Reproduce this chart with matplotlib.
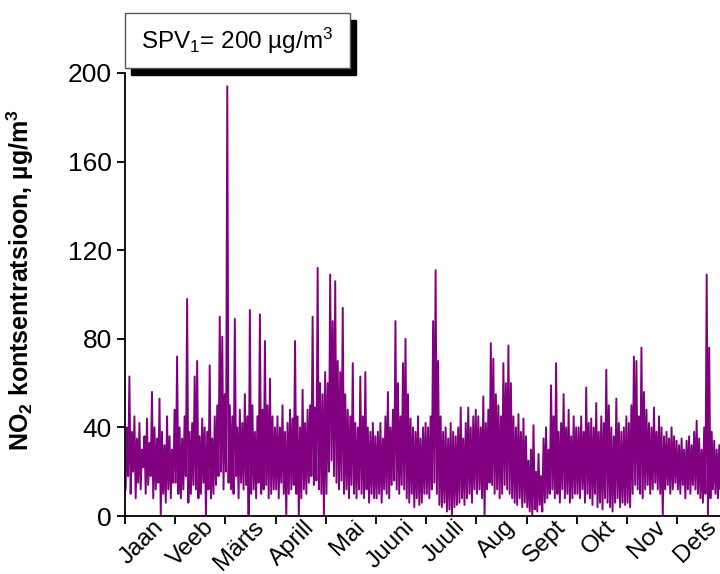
import matplotlib
matplotlib.use("Agg")
import matplotlib.pyplot as plt
from matplotlib.patches import Rectangle
import numpy as np

plt.rcParams["font.family"] = ["Liberation Sans", "DejaVu Sans"]
plt.rcParams["mathtext.fontset"] = "custom"
plt.rcParams["mathtext.rm"] = "Liberation Sans"
plt.rcParams["mathtext.it"] = "Liberation Sans:italic"
plt.rcParams["mathtext.bf"] = "Liberation Sans:bold"

months = ["Jaan", "Veeb", "Märts", "Aprill", "Mai", "Juuni",
          "Juuli", "Aug", "Sept", "Okt", "Nov", "Dets"]

# rough peaks / troughs of the hourly NO2 series, 20 pairs per month (µg/m3)
jan_hi = [40, 63, 38, 45, 35, 42, 30, 36, 44, 33, 56, 40, 35, 53, 38, 32, 45, 36, 30, 48]
jan_lo = [12, 18, 10, 20, 8, 15, 12, 22, 10, 14, 18, 8, 12, 15, 0, 10, 6, 12, 8, 15]
feb_hi = [72, 40, 35, 45, 98, 38, 42, 63, 70, 36, 44, 40, 38, 68, 35, 45, 50, 90, 81, 55]
feb_lo = [15, 10, 8, 12, 18, 6, 10, 14, 12, 8, 10, 15, 0, 12, 8, 10, 14, 18, 20, 12]
mar_hi = [194, 50, 45, 89, 40, 48, 42, 55, 45, 93, 50, 38, 45, 91, 48, 79, 50, 62, 45, 40]
mar_lo = [20, 15, 12, 10, 18, 8, 15, 12, 14, 0, 10, 12, 8, 15, 10, 12, 14, 8, 10, 12]
apr_hi = [45, 40, 50, 38, 42, 48, 44, 79, 45, 40, 57, 42, 48, 50, 90, 49, 112, 60, 55, 65]
apr_lo = [12, 8, 15, 10, 0, 10, 12, 14, 10, 0, 8, 12, 10, 15, 18, 14, 16, 12, 10, 0]
may_hi = [60, 109, 88, 106, 70, 65, 94, 55, 48, 45, 69, 42, 40, 63, 45, 65, 40, 38, 42, 36]
may_lo = [10, 20, 25, 18, 15, 12, 16, 10, 12, 8, 14, 10, 8, 12, 10, 8, 12, 6, 10, 8]
jun_hi = [38, 42, 35, 45, 56, 40, 48, 88, 60, 45, 69, 80, 55, 44, 40, 38, 45, 35, 40, 42]
jun_lo = [8, 10, 6, 12, 10, 8, 14, 16, 12, 10, 14, 12, 8, 6, 10, 4, 8, 5, 6, 10]
jul_hi = [40, 45, 88, 111, 70, 45, 38, 40, 35, 42, 38, 36, 40, 49, 35, 42, 49, 40, 45, 48]
jul_lo = [10, 8, 12, 15, 10, 5, 4, 6, 2, 3, 0, 4, 5, 6, 8, 5, 8, 10, 6, 12]
aug_hi = [45, 40, 54, 42, 48, 78, 71, 55, 50, 45, 69, 60, 77, 60, 45, 40, 46, 38, 44, 36]
aug_lo = [10, 12, 8, 0, 12, 15, 14, 10, 12, 8, 10, 14, 12, 10, 8, 6, 5, 8, 4, 6]
sep_hi = [25, 30, 41, 20, 28, 18, 35, 40, 30, 59, 45, 69, 38, 42, 55, 40, 48, 36, 45, 40]
sep_lo = [4, 2, 0, 3, 2, 5, 2, 6, 8, 10, 12, 8, 10, 6, 12, 8, 10, 6, 8, 10]
oct_hi = [40, 45, 38, 58, 42, 44, 40, 51, 38, 45, 42, 66, 50, 40, 36, 53, 42, 38, 40, 45]
oct_lo = [10, 8, 12, 6, 10, 8, 5, 10, 4, 6, 3, 8, 6, 4, 2, 6, 8, 4, 6, 5]
nov_hi = [42, 50, 72, 70, 45, 76, 56, 48, 42, 40, 49, 38, 45, 40, 36, 38, 35, 40, 36, 34]
nov_lo = [6, 4, 10, 14, 12, 10, 8, 12, 14, 10, 12, 15, 12, 10, 0, 12, 14, 10, 12, 15]
dec_hi = [32, 35, 30, 34, 36, 32, 38, 43, 35, 30, 40, 109, 76, 38, 34, 30, 32, 31, 30, 28]
dec_lo = [12, 10, 14, 8, 12, 10, 14, 12, 10, 8, 6, 10, 0, 8, 12, 10, 8, 12, 10, 8]

highs = [jan_hi, feb_hi, mar_hi, apr_hi, may_hi, jun_hi,
         jul_hi, aug_hi, sep_hi, oct_hi, nov_hi, dec_hi]
lows = [jan_lo, feb_lo, mar_lo, apr_lo, may_lo, jun_lo,
        jul_lo, aug_lo, sep_lo, oct_lo, nov_lo, dec_lo]

# time axis in months, lows and highs interleaved
xs, ys = [], []
for m in range(12):
    n = len(highs[m])
    for k in range(n):
        xs.append(m + (k + 0.25) / n)
        ys.append(lows[m][k])
        xs.append(m + (k + 0.75) / n)
        ys.append(highs[m][k])

fig = plt.figure(figsize=(7.2, 5.74), dpi=100)
ax = fig.add_axes([125 / 720, 58 / 574, 602.4 / 720, 443 / 574])

ax.plot(xs, ys, color="#800080", linewidth=1.4)

ax.set_xlim(0, 12)
ax.set_ylim(0, 200)
ax.set_yticks([0, 40, 80, 120, 160, 200])
ax.set_xticks(np.arange(12))
ax.set_xticklabels([])
ax.set_xticks(np.arange(12) + 0.55, minor=True)
ax.set_xticklabels(months, minor=True, rotation=45, ha="right", va="top",
                   rotation_mode="anchor", fontsize=17.5)
ax.tick_params(axis="x", which="minor", length=0, pad=0)
ax.tick_params(axis="both", which="major", direction="out", length=6,
               width=1.3, labelsize=19)

for s in ["top", "right"]:
    ax.spines[s].set_visible(False)
for s in ["left", "bottom"]:
    ax.spines[s].set_linewidth(1.3)

ax.set_ylabel(r"NO$_\mathbf{2}$ kontsentratsioon, µg/m$^\mathbf{3}$",
              fontsize=18, fontweight="bold")
ax.yaxis.set_label_coords(-0.148, 0.533)

# label box with drop shadow
bx, by, bw, bh = 125 / 720, 506 / 574, 225 / 720, 55 / 574
shadow = Rectangle((bx + 6 / 720, by - 7 / 574), bw, bh, transform=fig.transFigure,
                   facecolor="black", edgecolor="black", zorder=1)
box = Rectangle((bx, by), bw, bh, transform=fig.transFigure,
                facecolor="white", edgecolor="#555555", linewidth=1.0, zorder=2)
fig.add_artist(shadow)
fig.add_artist(box)
fig.text(bx + bw / 2, by + bh / 2, r"SPV$_1$= 200 µg/m$^3$", ha="center",
         va="center", fontsize=17.5, zorder=3)

fig.savefig("out.png", dpi=100)
